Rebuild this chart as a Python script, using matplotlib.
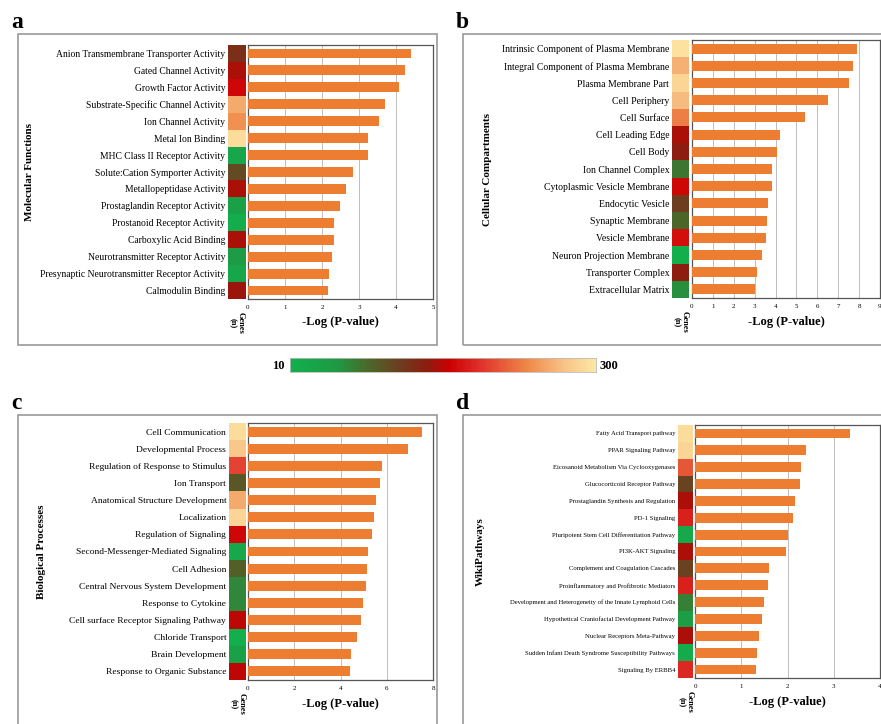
import numpy as np
import matplotlib
matplotlib.use("Agg")
import matplotlib.pyplot as plt
from matplotlib.colors import LinearSegmentedColormap, Normalize
from matplotlib.patches import Rectangle

plt.rcParams["font.family"] = ["Liberation Serif", "DejaVu Serif"]

# ---- data ----
mf_terms = ["Anion Transmembrane Transporter Activity", "Gated Channel Activity",
            "Growth Factor Activity", "Substrate-Specific Channel Activity",
            "Ion Channel Activity", "Metal Ion Binding", "MHC Class II Receptor Activity",
            "Solute:Cation Symporter Activity", "Metallopeptidase Activity",
            "Prostaglandin Receptor Activity", "Prostanoid Receptor Activity",
            "Carboxylic Acid Binding", "Neurotransmitter Receptor Activity",
            "Presynaptic Neurotransmitter Receptor Activity", "Calmodulin Binding"]
mf_logp = [4.41, 4.23, 4.07, 3.69, 3.55, 3.25, 3.23, 2.83, 2.66, 2.48, 2.33, 2.33, 2.28, 2.19, 2.17]
mf_genes = [125, 150, 165, 255, 240, 290, 30, 105, 150, 40, 15, 150, 50, 30, 145]

cc_terms = ["Intrinsic Component of Plasma Membrane", "Integral Component of Plasma Membrane",
            "Plasma Membrane Part", "Cell Periphery", "Cell Surface", "Cell Leading Edge",
            "Cell Body", "Ion Channel Complex", "Cytoplasmic Vesicle Membrane",
            "Endocytic Vesicle", "Synaptic Membrane", "Vesicle Membrane",
            "Neuron Projection Membrane", "Transporter Complex", "Extracellular Matrix"]
cc_logp = [7.91, 7.72, 7.51, 6.52, 5.43, 4.22, 4.06, 3.85, 3.82, 3.66, 3.58, 3.55, 3.34, 3.13, 3.02]
cc_genes = [295, 260, 285, 265, 230, 150, 140, 75, 165, 115, 85, 170, 12, 140, 60]

bp_terms = ["Cell Communication", "Developmental Process", "Regulation of Response to Stimulus",
            "Ion Transport", "Anatomical Structure Development", "Localization",
            "Regulation of Signaling", "Second-Messenger-Mediated Signaling", "Cell Adhesion",
            "Central Nervous System Development", "Response to Cytokine",
            "Cell surface Receptor Signaling Pathway", "Chloride Transport",
            "Brain Development", "Response to Organic Substance"]
bp_logp = [7.54, 6.91, 5.80, 5.70, 5.55, 5.43, 5.36, 5.17, 5.14, 5.10, 4.97, 4.90, 4.71, 4.46, 4.39]
bp_genes = [290, 275, 200, 95, 255, 285, 165, 25, 90, 65, 65, 155, 12, 40, 155]

wp_terms = ["Fatty Acid Transport pathway", "PPAR Signaling Pathway",
            "Eicosanoid Metabolism Via Cyclooxygenases", "Glucocorticoid Receptor Pathway",
            "Prostaglandin Synthesis and Regulation", "PD-1 Signaling",
            "Pluripotent Stem Cell Differentiation Pathway", "PI3K-AKT Signaling",
            "Complement and Coagulation Cascades", "Proinflammatory and Profibrotic Mediators",
            "Development and Heterogeneity of the Innate Lymphoid Cells",
            "Hypothetical Craniofacial Development Pathway", "Nuclear Receptors Meta-Pathway",
            "Sudden Infant Death Syndrome Susceptibility Pathways", "Signaling By ERBB4"]
wp_logp = [3.36, 2.41, 2.29, 2.27, 2.16, 2.12, 2.01, 1.96, 1.60, 1.58, 1.49, 1.45, 1.38, 1.33, 1.31]
wp_genes = [290, 285, 210, 110, 150, 180, 25, 150, 110, 180, 70, 45, 150, 20, 185]

gene_min, gene_max = 10, 300

W, H = 881, 724
fig = plt.figure(figsize=(W / 100, H / 100), dpi=100)


def box(x0, y0, x1, y1):
    return [x0 / W, 1 - y1 / H, (x1 - x0) / W, (y1 - y0) / H]


cmap = LinearSegmentedColormap.from_list("genes", [
    (0.0, "#12b04d"), (0.15, "#1f9a45"), (0.25, "#4a6a2a"), (0.35, "#6b4020"),
    (0.45, "#8e1c10"), (0.52, "#cc0000"), (0.62, "#e0302a"), (0.78, "#ef8a4a"),
    (0.9, "#f8c487"), (1.0, "#fde7a4")])
norm = Normalize(gene_min, gene_max)

orange = "#ed7d31"

panels = [
    ("a", mf_terms, mf_logp, mf_genes, "Molecular Functions", 5, [0, 1, 2, 3, 4, 5],
     (18, 34, 437, 345), (228, 245), (248, 433), (45, 299), 6.9, 30),
    ("b", cc_terms, cc_logp, cc_genes, "Cellular Compartments", 9, list(range(10)),
     (463, 34, 890, 345), (672, 689), (692, 880), (40, 298), 7.0, 488),
    ("c", bp_terms, bp_logp, bp_genes, "Biological Processes", 8, [0, 2, 4, 6, 8],
     (18, 415, 437, 730), (229, 246), (248, 433), (423, 680), 6.8, 41),
    ("d", wp_terms, wp_logp, wp_genes, "WikiPathways", 4, [0, 1, 2, 3, 4],
     (463, 415, 890, 730), (678, 693), (695, 880), (425, 678), 4.8, 480),
]

for letter, terms, logp, genes, title, xmax, xt, frame, sx, bx, yy, lfs, tx in panels:
    fx0, fy0, fx1, fy1 = frame
    fig.patches.append(Rectangle((fx0 / W, 1 - fy1 / H), (fx1 - fx0) / W, (fy1 - fy0) / H,
                                 transform=fig.transFigure, fill=False,
                                 edgecolor="#9a9a9a", linewidth=1.2))
    fig.text((fx0 - 7) / W, 1 - (fy0 - 12) / H, letter, fontsize=17, fontweight="bold",
             ha="left", va="center")

    n = len(terms)
    # gene strip
    axs = fig.add_axes(box(sx[0], yy[0], sx[1], yy[1]))
    axs.imshow(np.array(genes).reshape(-1, 1), cmap=cmap, norm=norm, aspect="auto",
               extent=(0, 1, n - 0.5, -0.5))
    axs.set_xlim(0, 1)
    axs.set_ylim(n - 0.5, -0.5)
    axs.set_xticks([])
    axs.set_yticks(range(n))
    axs.set_yticklabels(terms, fontsize=lfs)
    axs.tick_params(axis="y", length=0, pad=2)
    for s in axs.spines.values():
        s.set_visible(False)
    fig.text((sx[0] + sx[1]) / 2 / W, 1 - (yy[1] + 24) / H, "Genes\n(n)", rotation=270,
             fontsize=6, fontweight="bold", ha="center", va="center", linespacing=1.0)

    # bars
    ax = fig.add_axes(box(bx[0], yy[0], bx[1], yy[1]))
    ax.barh(range(n), logp, height=0.58, color=orange, zorder=3)
    ax.set_ylim(n - 0.5, -0.5)
    ax.set_xlim(0, xmax)
    ax.set_xticks(xt)
    ax.set_xticklabels([str(v) for v in xt], fontsize=5)
    ax.set_yticks([])
    ax.tick_params(axis="x", length=0, pad=4)
    ax.grid(axis="x", color="#bdbdbd", linewidth=0.7, zorder=0)
    for s in ax.spines.values():
        s.set_color("#555555")
        s.set_linewidth(0.9)
    ax.set_xlabel("-Log (P-value)", fontsize=9, fontweight="bold", labelpad=5)

    # y title
    fig.text(tx / W, 1 - ((yy[0] + yy[1]) / 2) / H, title, rotation=90,
             fontsize=8, fontweight="bold", ha="center", va="center")

# colour bar
cax = fig.add_axes(box(290, 358, 596, 372))
cax.imshow(np.linspace(gene_min, gene_max, 300).reshape(1, -1), cmap=cmap, norm=norm,
           aspect="auto")
cax.set_xticks([])
cax.set_yticks([])
for s in cax.spines.values():
    s.set_color("#bbbbbb")
    s.set_linewidth(0.6)
fig.text(285 / W, 1 - 366 / H, str(gene_min), fontsize=9, fontweight="bold",
         ha="right", va="center")
fig.text(600 / W, 1 - 366 / H, str(gene_max), fontsize=9, fontweight="bold",
         ha="left", va="center")

fig.savefig("out.png", dpi=100)
